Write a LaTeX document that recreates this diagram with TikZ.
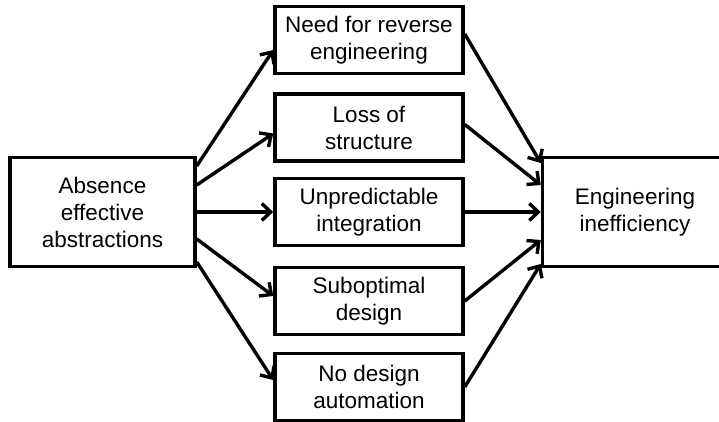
\documentclass[tikz,border=0pt]{standalone}
\usepackage{fontspec}
\setmainfont{Liberation Sans}
\usetikzlibrary{arrows.meta}
\begin{document}
\begin{tikzpicture}[x=1pt,y=1pt,
  box/.style={draw, line width=3.5pt, align=center, inner sep=0pt,
    font=\fontsize{22.5}{27}\selectfont},
  bigbox/.style={box, minimum width=185pt, minimum height=109pt},
  midbox/.style={box, minimum width=188pt, minimum height=67pt},
  arr/.style={line width=3.4pt, -{Straight Barb[length=9pt,width=17pt,line width=3.4pt]}}]
\clip (0,0) rectangle (719,422);
\node[bigbox] (L) at (102.5,210) {Absence\\effective\\abstractions};
\node[bigbox] (R) at (635,210) {Engineering\\inefficiency};
\node[midbox] (B1) at (369,382) {Need for reverse\\engineering};
\node[midbox] (B2) at (369,294.5) {Loss of\\structure};
\node[midbox] (B3) at (369,210) {Unpredictable\\integration};
\node[midbox] (B4) at (369,121) {Suboptimal\\design};
\node[midbox] (B5) at (369,35) {No design\\automation};
% left fan
\draw[arr] ([yshift=46pt]L.east) -- ([yshift=-10pt]B1.west);
\draw[arr] ([yshift=27pt]L.east) -- ([yshift=-6pt]B2.west);
\draw[arr] (L.east) -- (B3.west);
\draw[arr] ([yshift=-27pt]L.east) -- ([yshift=5pt]B4.west);
\draw[arr] ([yshift=-50pt]L.east) -- ([yshift=7pt]B5.west);
% right fan
\draw[arr] ([yshift=6pt]B1.east) -- ([yshift=49pt]R.west);
\draw[arr] ([yshift=3pt]B2.east) -- ([yshift=27pt]R.west);
\draw[arr] (B3.east) -- (R.west);
\draw[arr] (B4.east) -- ([yshift=-28pt]R.west);
\draw[arr] (B5.east) -- ([yshift=-52pt]R.west);
\end{tikzpicture}
\end{document}
